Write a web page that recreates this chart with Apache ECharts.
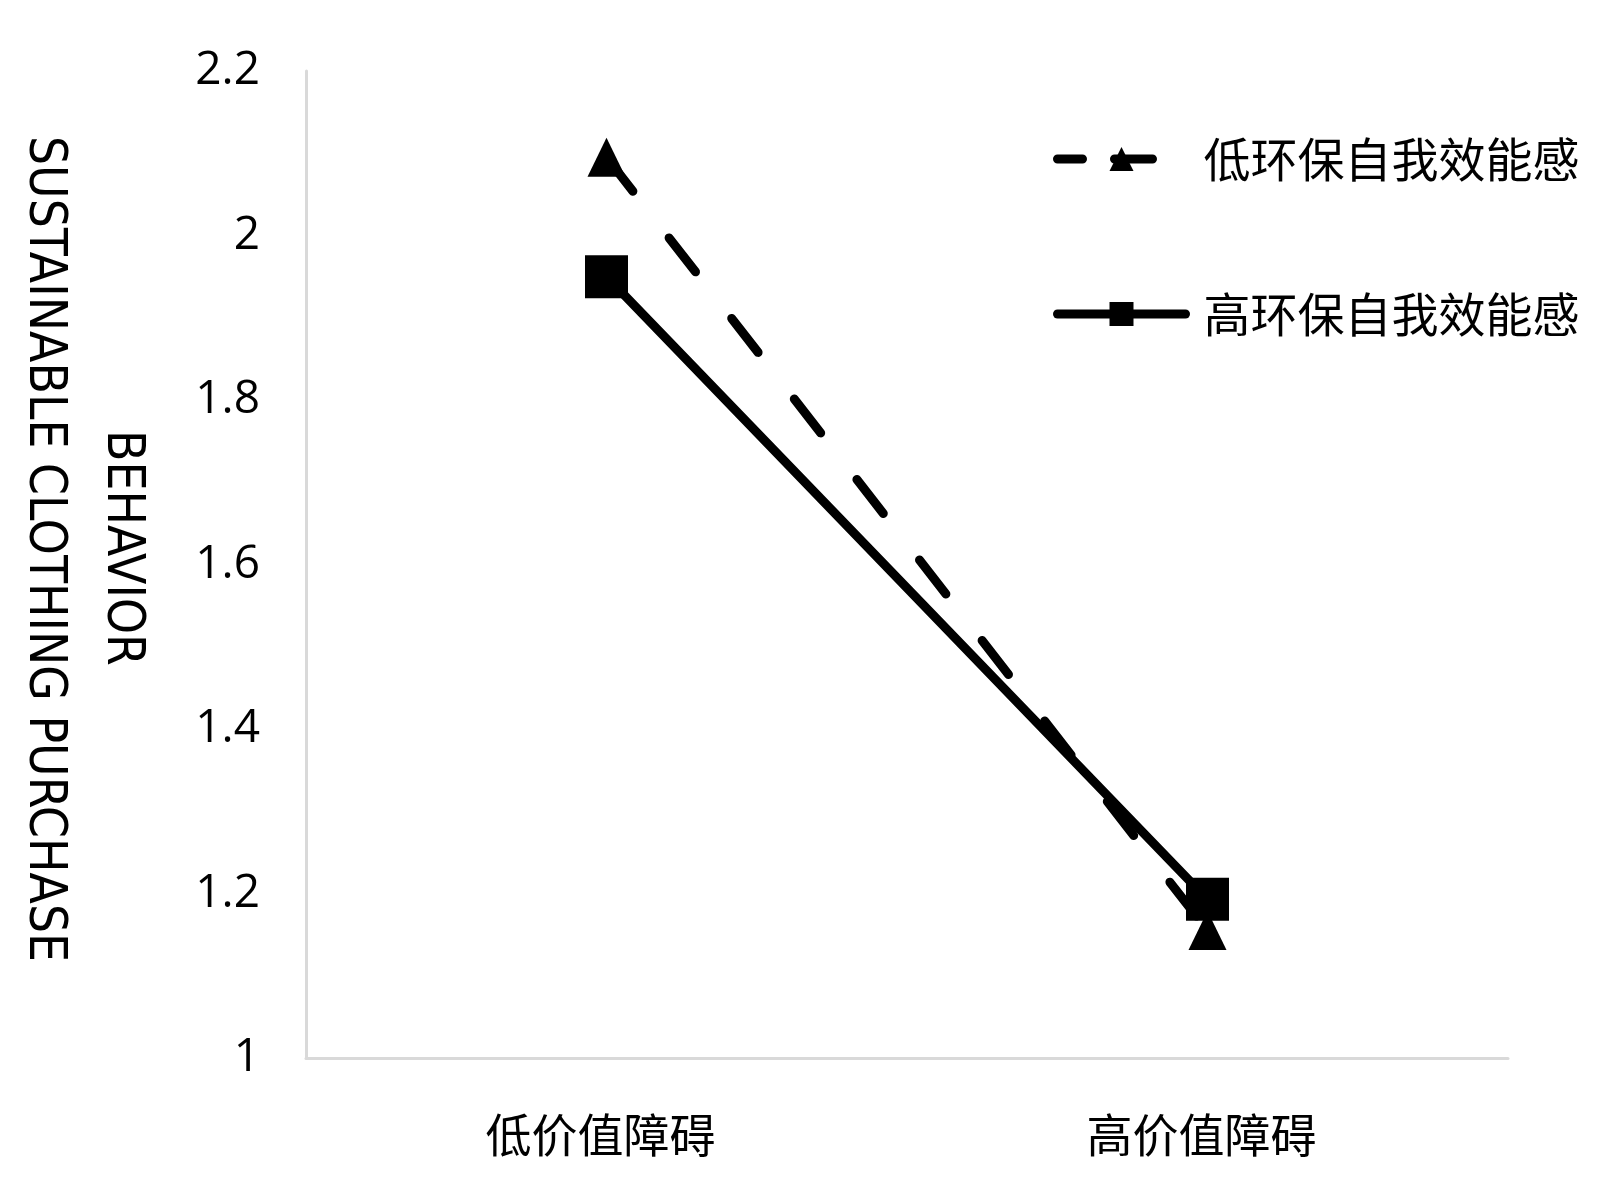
<!DOCTYPE html>
<html>
<head>
<meta charset="utf-8">
<script src="https://cdn.jsdelivr.net/npm/echarts@6/dist/echarts.min.js"></script>
<style>html,body{margin:0;padding:0;background:#fff}#c{width:1600px;height:1195px}</style>
</head>
<body>
<div id="c"></div>
<script>
var categories = ['低价值障碍', '高价值障碍'];
var seriesNames = ['低环保自我效能感', '高环保自我效能感'];
var lowEfficacy = [2.095, 1.155];
var highEfficacy = [1.95, 1.193];
var yTitleLine1 = 'SUSTAINABLE CLOTHING PURCHASE';
var yTitleLine2 = 'BEHAVIOR';

var chart = echarts.init(document.getElementById('c'));
chart.setOption({
  backgroundColor: '#fff',
  animation: false,
  grid: { left: 306, right: 92, top: 71, bottom: 137 },
  xAxis: {
    type: 'category',
    data: categories,
    axisLine: { lineStyle: { color: '#d9d9d9', width: 3 } },
    axisTick: { show: false },
    axisLabel: { fontFamily: 'Noto Sans CJK SC', fontSize: 46, color: '#000', margin: 54, padding: [0, 12, 0, 0] }
  },
  yAxis: {
    type: 'value', min: 1, max: 2.2, interval: 0.2,
    axisLine: { show: true, lineStyle: { color: '#d9d9d9', width: 3 } },
    axisTick: { show: false },
    splitLine: { show: false },
    axisLabel: { fontFamily: 'Open Sans', fontSize: 46, color: '#000', margin: 46,
      formatter: function (v) { return String(Math.round(v * 10) / 10); } }
  },
  legend: {
    orient: 'vertical',
    left: 1048, top: 129,
    itemWidth: 128, itemHeight: 30, itemGap: 105,
    textStyle: { fontFamily: 'Noto Sans CJK SC', fontSize: 47, color: '#000', lineHeight: 50, padding: [0, 0, 0, 13] },
    data: [
      { name: seriesNames[0], lineStyle: { type: [25, 32, 38, 100], width: 9, cap: 'round', color: '#000' } },
      { name: seriesNames[1], lineStyle: { type: 'solid', width: 9, cap: 'round', color: '#000' } }
    ]
  },
  graphic: [
    { type: 'text', x: 43, y: 549, rotation: -Math.PI / 2,
      style: { text: yTitleLine1, font: '51px "Liberation Sans Narrow", "DejaVu Sans Condensed", sans-serif', fill: '#000', textAlign: 'center', textVerticalAlign: 'middle' } },
    { type: 'text', x: 121, y: 548, rotation: -Math.PI / 2,
      style: { text: yTitleLine2, font: '51px "Liberation Sans Narrow", "DejaVu Sans Condensed", sans-serif', fill: '#000', textAlign: 'center', textVerticalAlign: 'middle' } }
  ],
  series: [
    { name: seriesNames[0], type: 'line', data: lowEfficacy,
      symbol: 'triangle', symbolSize: [38, 39],
      itemStyle: { color: '#000' },
      lineStyle: { color: '#000', width: 9, type: [43, 59], cap: 'round' },
      z: 2 },
    { name: seriesNames[1], type: 'line', data: highEfficacy,
      symbol: 'rect', symbolSize: 43,
      itemStyle: { color: '#000' },
      lineStyle: { color: '#000', width: 9, type: 'solid', cap: 'round' },
      z: 3 }
  ]
});
</script>
</body>
</html>
